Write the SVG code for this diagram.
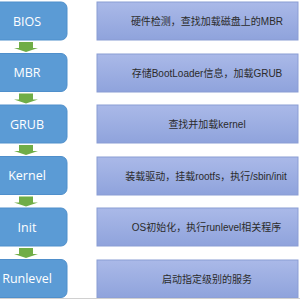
<svg xmlns="http://www.w3.org/2000/svg" width="300" height="300" viewBox="0 0 300 300">
<defs>
<linearGradient id="g" x1="0" y1="0" x2="0" y2="1">
<stop offset="0" stop-color="#aab9e8"/>
<stop offset="1" stop-color="#8fa3dc"/>
</linearGradient>
<path id="arr" d="M19,0 H33 V6 H38 L26,10 L14,6 H19 Z"/>
</defs>
<style>
.l{fill:#5b9bd5;stroke:#4f8fcb;stroke-width:1}
.r{fill:url(#g);stroke:#8a9dd4;stroke-width:1}
.lt{font-family:"Open Sans","Liberation Sans",sans-serif;font-size:12.5px;fill:#ffffff;text-anchor:middle}
.rt{font-family:"Liberation Sans","Noto Sans CJK SC",sans-serif;font-size:10px;fill:#2b2b2b;text-anchor:middle}
.a{fill:#70ad47}
</style>
<rect x="0" y="0" width="300" height="300" fill="#ffffff"/>
<g id="connectors">
<use href="#arr" class="a" x="0" y="42"/>
<use href="#arr" class="a" x="0" y="93.5"/>
<use href="#arr" class="a" x="0" y="145"/>
<use href="#arr" class="a" x="0" y="196.5"/>
<use href="#arr" class="a" x="0" y="248"/>
</g>
<g id="bios"><rect class="l" x="-6" y="2" width="73" height="38" rx="6"/><text class="lt" x="27" y="25.5">BIOS</text></g>
<g id="mbr"><rect class="l" x="-6" y="53.5" width="73" height="38" rx="6"/><text class="lt" x="27" y="77">MBR</text></g>
<g id="grub"><rect class="l" x="-6" y="105" width="73" height="38" rx="6"/><text class="lt" x="27" y="128.5">GRUB</text></g>
<g id="kernel"><rect class="l" x="-6" y="156.5" width="73" height="38" rx="6"/><text class="lt" x="27" y="180">Kernel</text></g>
<g id="init"><rect class="l" x="-6" y="208" width="73" height="38" rx="6"/><text class="lt" x="27" y="231.5">Init</text></g>
<g id="runlevel"><rect class="l" x="-6" y="259.5" width="73" height="38" rx="6"/><text class="lt" x="27" y="283">Runlevel</text></g>
<g id="d-bios"><rect class="r" x="97" y="2" width="201" height="38"/><text class="rt" x="207" y="24.5">硬件检测，查找加载磁盘上的MBR</text></g>
<g id="d-mbr"><rect class="r" x="97" y="54" width="201" height="38"/><text class="rt" x="207" y="76.5">存储BootLoader信息，加载GRUB</text></g>
<g id="d-grub"><rect class="r" x="97" y="105" width="201" height="38"/><text class="rt" x="207" y="127.5">查找并加载kernel</text></g>
<g id="d-kernel"><rect class="r" x="97" y="157" width="201" height="38"/><text class="rt" x="206" y="179.5">装载驱动，挂载rootfs，执行/sbin/init</text></g>
<g id="d-init"><rect class="r" x="97" y="208" width="201" height="38"/><text class="rt" x="206.5" y="230.5">OS初始化，执行runlevel相关程序</text></g>
<g id="d-runlevel"><rect class="r" x="97" y="260" width="201" height="38"/><text class="rt" x="207" y="282.5">启动指定级别的服务</text></g>
<line x1="0" y1="298.5" x2="300" y2="298.5" stroke="#d0d0d0" stroke-width="1"/>
</svg>
